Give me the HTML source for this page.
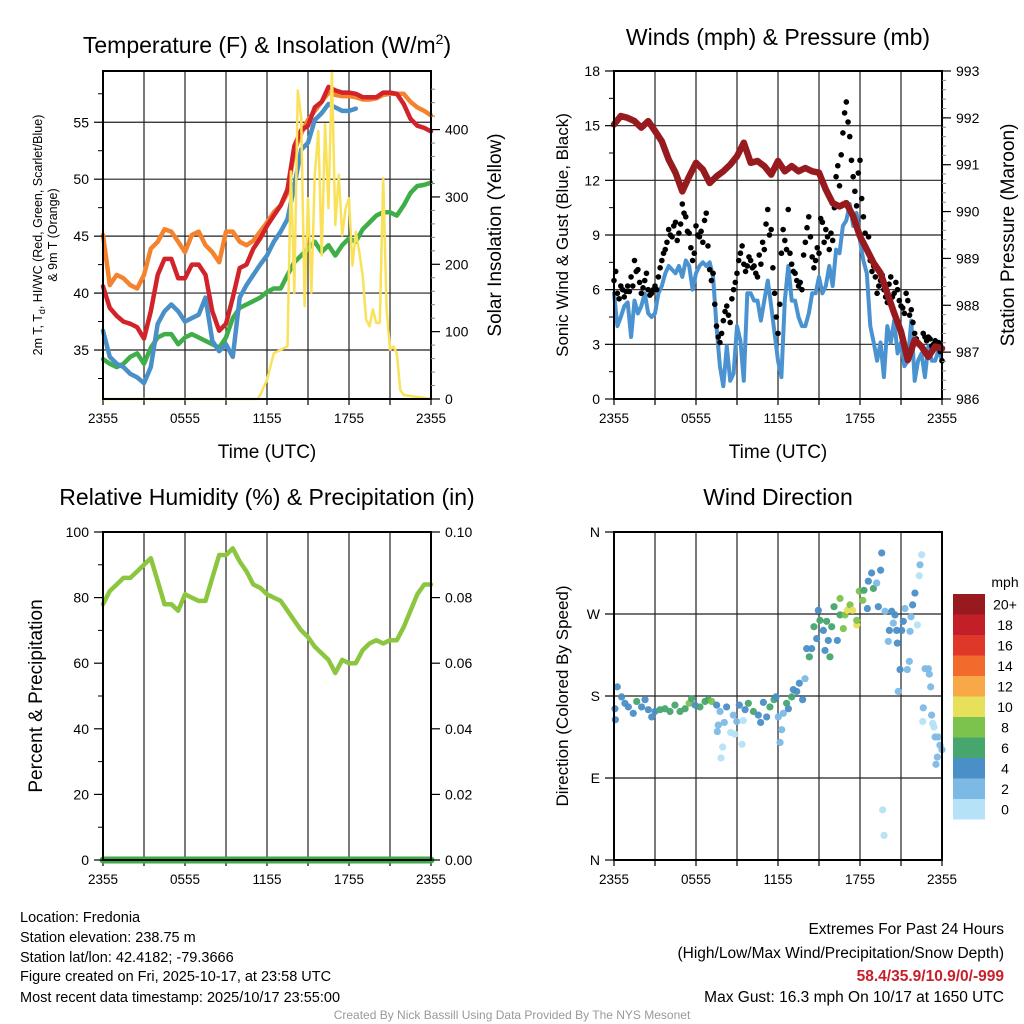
<!DOCTYPE html>
<html><head><meta charset="utf-8">
<style>
html,body{margin:0;padding:0;background:#fff;}
svg{display:block;font-family:"Liberation Sans",Arial,sans-serif;}
</style></head>
<body>
<svg id="chart" width="1024" height="1024" viewBox="0 0 1024 1024" xmlns="http://www.w3.org/2000/svg">
<rect x="0" y="0" width="1024" height="1024" fill="#fff"/>
<g id="layer"></g>
<text x="267" y="53" font-size="23" text-anchor="middle">Temperature (F) &amp; Insolation (W/m<tspan dy="-9" font-size="14">2</tspan><tspan dy="9">)</tspan></text>
<text x="778" y="45" font-size="23" text-anchor="middle">Winds (mph) &amp; Pressure (mb)</text>
<text x="267" y="505" font-size="23" text-anchor="middle">Relative Humidity (%) &amp; Precipitation (in)</text>
<text x="778" y="505" font-size="23" text-anchor="middle">Wind Direction</text>
<text x="267" y="458" font-size="19" text-anchor="middle">Time (UTC)</text>
<text x="778" y="458" font-size="19" text-anchor="middle">Time (UTC)</text>
<text transform="translate(42,235) rotate(-90)" font-size="12.5" text-anchor="middle">2m T, T<tspan font-size="9" dy="3">d</tspan><tspan dy="-3">, HI/WC (Red, Green, Scarlet/Blue)</tspan></text>
<text transform="translate(57,235) rotate(-90)" font-size="12.5" text-anchor="middle">&amp; 9m T (Orange)</text>
<text transform="translate(501,235) rotate(-90)" font-size="19" text-anchor="middle">Solar Insolation (Yellow)</text>
<text transform="translate(568,235) rotate(-90)" font-size="17" text-anchor="middle">Sonic Wind &amp; Gust (Blue, Black)</text>
<text transform="translate(1014,235) rotate(-90)" font-size="19" text-anchor="middle">Station Pressure (Maroon)</text>
<text transform="translate(42,696) rotate(-90)" font-size="19" text-anchor="middle">Percent &amp; Precipitation</text>
<text transform="translate(568,696) rotate(-90)" font-size="17" text-anchor="middle">Direction (Colored By Speed)</text>
<g font-size="14.5">
<text x="20" y="922">Location: Fredonia</text>
<text x="20" y="942">Station elevation: 238.75 m</text>
<text x="20" y="962">Station lat/lon: 42.4182; -79.3666</text>
<text x="20" y="981">Figure created on Fri, 2025-10-17, at 23:58 UTC</text>
<text x="20" y="1002">Most recent data timestamp: 2025/10/17 23:55:00</text>
</g>
<g font-size="15.5" text-anchor="end">
<text x="1004" y="934">Extremes For Past 24 Hours</text>
<text x="1004" y="958">(High/Low/Max Wind/Precipitation/Snow Depth)</text>
<text x="1004" y="981" fill="#c8202a" font-weight="bold">58.4/35.9/10.9/0/-999</text>
<text x="1004" y="1002">Max Gust: 16.3 mph On 10/17 at 1650 UTC</text>
</g>
<text x="512" y="1019" font-size="12" fill="#999" text-anchor="middle">Created By Nick Bassill Using Data Provided By The NYS Mesonet</text>
</svg>
<script>
// ---- data (half-hourly unless noted) ----
const tempRed=[40.6,38.7,38.0,37.5,37.3,37.0,36.0,38.4,41.6,43.0,43.0,41.3,41.3,42.5,42.5,41.6,38.4,36.7,37.3,39.6,42.2,42.5,43.9,44.8,45.9,46.8,47.7,49.1,52.9,54.3,54.7,56.3,56.8,58.1,57.8,57.6,57.6,57.5,57.2,57.2,57.2,57.6,57.6,57.5,56.6,55.3,54.7,54.5,54.2];
const temp9m=[45.1,40.7,41.6,41.3,40.7,40.4,41.6,43.9,44.5,45.6,45.4,44.5,43.6,45.1,45.4,44.2,43.6,42.7,45.4,45.4,44.5,44.2,44.6,45.4,46.2,47.1,47.7,48.8,52.5,54.0,55.2,56.0,56.8,57.6,57.4,57.3,57.3,57.2,57.0,57.0,57.1,57.4,57.5,57.5,57.5,56.8,56.3,56.0,55.6];
const tempHI=[36.7,34.4,33.8,33.5,32.9,32.6,32.1,33.5,37.3,38.4,39.0,38.4,37.5,37.8,38.1,39.6,35.8,34.9,35.5,34.4,39.6,40.7,41.6,42.5,43.3,44.5,45.4,46.5,49.4,52.6,53.2,55.2,55.8,56.6,56.3,56.0,56.0,56.2];
const tempDew=[34.2,33.8,33.5,33.8,34.4,34.7,33.8,35.2,36.1,36.4,36.4,35.5,36.1,36.4,36.1,35.8,35.5,35.2,36.1,37.8,38.7,39.0,39.3,39.6,40.1,40.4,40.4,41.6,42.7,43.3,43.9,44.5,43.6,44.2,43.3,44.2,44.8,44.5,45.6,46.2,46.8,47.1,47.1,46.8,47.7,48.8,49.4,49.5,49.7];
const solarHours=[0,11.3,11.5,12,12.5,13,13.5,13.75,14,14.25,14.5,14.75,15,15.25,15.5,15.75,16,16.25,16.5,16.75,17,17.25,17.5,17.75,18,18.25,18.5,18.75,19,19.25,19.5,19.75,20,20.25,20.5,20.75,21,21.25,21.5,21.75,22,24];
const solarVals=[0,0,6,28,68,73,78,338,158,458,418,138,298,158,333,398,213,408,283,488,258,333,243,283,298,198,248,218,183,118,108,133,113,113,328,133,73,78,68,13,6,0];
const tempTicks=[35,40,45,50,55];
const solarTicks=[0,100,200,300,400];
const timeLabels=["2355","0555","1155","1755","2355"];
// quarter-hourly
const windSpd=[5.8,4.0,4.5,5.1,5.3,3.4,5.4,4.7,5.1,5.8,4.7,4.5,4.7,5.8,6.2,6.9,7.3,7.1,6.9,7.3,6.7,7.6,7.3,6.0,6.9,7.3,7.5,7.3,7.5,6.7,4.0,1.8,0.7,2.9,1.0,1.4,4.0,3.2,1.0,5.8,5.8,5.4,5.4,4.3,5.4,6.5,5.1,3.6,2.1,1.2,5.4,7.3,5.4,5.4,4.5,4.0,4.0,4.7,5.8,5.8,6.7,5.8,6.2,7.3,6.2,8.2,8.0,9.5,9.8,10.7,9.5,10.2,8.7,7.6,6.9,4.0,3.1,2.1,3.1,1.2,4.0,3.1,4.3,2.5,3.1,1.8,2.1,4.3,1.0,2.1,2.5,1.2,2.9,2.1,2.1,2.7,2.1];
const gustA=[6.5,5.8,6.2,5.6,6.2,6.7,7.6,7.1,5.8,6.5,6.0,5.8,6.2,6.7,7.6,8.2,9.3,8.9,9.7,9.1,10.7,10.0,9.1,7.6,9.5,8.9,8.6,10.2,7.1,6.9,4.0,3.1,4.3,5.1,4.2,6.0,6.9,8.0,7.4,7.3,7.6,7.3,6.7,7.4,8.2,10.4,9.3,5.8,3.6,8.0,8.7,10.4,7.4,6.9,6.2,6.0,8.6,10.0,7.8,7.6,8.0,9.7,9.3,8.2,8.7,12.2,11.7,14.6,16.3,14.4,12.2,10.6,13.1,10.0,8.2,7.6,7.3,5.8,6.5,6.0,5.3,6.7,5.8,6.0,5.1,4.7,5.4,4.9,3.6,3.1,2.9,3.4,3.4,2.9,3.2,3.1,2.1];
const gustB=[7.0,5.5,6.0,5.9,5.9,6.2,7.0,6.4,6.1,6.9,5.7,6.0,6.0,7.2,8.0,8.6,9.0,9.5,8.7,9.6,10.2,9.2,8.3,8.0,9.0,9.2,9.8,8.4,6.5,5.2,3.4,3.6,4.8,4.6,5.5,6.4,7.6,8.4,7.0,7.8,7.2,6.9,7.9,8.6,9.6,9.0,7.2,4.5,5.2,9.3,8.2,8.0,7.0,6.5,6.4,7.9,9.4,8.9,7.2,8.3,9.9,8.6,8.9,9.1,10.5,12.8,13.4,15.7,15.2,13.1,11.4,12.4,11.0,9.1,8.9,7.0,6.7,6.2,6.8,5.6,6.3,5.6,6.4,5.4,5.0,5.8,4.6,4.2,3.3,3.0,3.6,3.2,3.3,3.0,2.8,2.6];
const pressure=[991.86,992.04,992.0,991.93,991.79,991.93,991.72,991.5,991.11,990.83,990.43,990.75,991.04,990.9,990.61,990.75,990.86,991.0,991.18,991.47,991.04,991.08,990.97,990.79,991.08,990.86,990.97,990.86,990.93,990.86,990.83,990.47,990.18,990.11,990.18,989.9,989.47,989.19,988.9,988.69,988.26,987.83,987.44,986.83,987.26,987.12,986.9,987.12,987.08];
const windTicks=[0,3,6,9,12,15,18];
const presTicks=[986,987,988,989,990,991,992,993];
const rh=[78,82,84,86,86,88,90,92,85,78,78,76,81,80,79,79,86,93,93,95,91,88,84,83,81,80,79,76,73,70,68,65,63,61,57,61,60,60,64,66,67,66,67,67,71,76,81,84,84];
const precip=[0,0,0,0,0,0,0,0,0,0,0,0,0,0,0,0,0,0,0,0,0,0,0,0,0,0,0,0,0,0,0,0,0,0,0,0,0,0,0,0,0,0,0,0,0,0,0,0,0];
const rhTicks=[0,20,40,60,80,100];
const precipTicks=["0.00","0.02","0.04","0.06","0.08","0.10"];
const dirHours=[0.07,0.24,0.1,0.56,0.8,1.05,1.41,1.66,2.02,2.27,2.51,2.76,3.0,3.37,3.73,4.1,4.46,4.83,5.2,5.5,5.68,5.93,6.29,6.66,6.9,7.15,7.51,7.76,7.63,7.56,7.95,7.83,8.24,8.07,8.54,8.85,8.73,8.98,9.17,9.37,9.46,9.59,9.83,10.2,10.56,10.73,10.93,11.17,11.41,11.71,11.85,12.02,12.15,12.27,12.39,12.63,12.76,13.0,13.12,13.37,13.56,13.8,13.98,14.1,14.29,14.46,14.63,14.83,14.95,15.07,15.32,15.44,15.56,15.68,15.8,15.93,16.1,16.34,16.54,16.54,16.78,16.9,17.07,17.27,17.46,17.76,17.76,17.95,18.2,18.29,18.54,18.61,18.85,18.98,19.22,19.34,19.51,19.59,19.66,19.76,19.83,20.15,20.07,20.32,20.44,20.56,20.68,20.73,20.8,20.93,21.05,21.17,21.29,21.46,21.61,21.66,21.73,21.85,22.02,22.2,22.34,22.39,22.51,22.63,22.59,22.76,23.0,23.07,23.17,23.24,23.32,23.41,23.49,23.73,23.85,23.66,23.56,24.0];
const dirDeg=[166,190,154,179,172,168,161,174,168,176,165,157,163,165,166,163,170,163,166,172,177,170,168,174,176,174,170,163,148,141,124,112,168,151,140,138,159,152,170,127,153,165,172,163,159,151,173,157,168,176,179,157,129,143,161,172,166,179,187,185,194,176,199,232,223,232,256,243,274,263,252,230,262,241,223,256,278,241,287,269,254,269,274,280,274,258,263,295,285,296,276,306,315,298,304,278,318,337,55,27,273,252,240,273,260,269,252,238,185,209,252,262,276,209,218,251,267,280,293,258,312,324,335,167,152,210,210,204,190,159,150,146,135,135,126,113,105,121];
const dirSpd=[4,4,4,4,4,4,4,6,4,4,4,4,4,6,6,6,6,6,6,8,6,4,6,6,6,8,4,2,2,2,0,0,4,2,0,0,2,2,4,0,0,4,6,6,4,4,4,4,6,6,4,2,2,2,2,6,4,6,4,4,4,4,2,4,6,4,6,4,4,6,4,4,6,4,6,6,6,4,8,6,8,8,10,8,10,10,8,8,8,6,4,4,4,6,2,4,4,4,0,0,2,4,2,4,2,4,4,4,2,4,4,4,2,2,2,2,2,4,4,0,0,2,0,2,0,2,2,2,2,2,0,0,2,2,2,2,2,2];
const dirLabels=["N","E","S","W","N"];
const speedBins=["0","2","4","6","8","10","12","14","16","18","20+"];
const speedColors=["#b5e2f6","#7db9e5","#4a8fc7","#47a56e","#7cc34e","#e6e05a","#f8a846","#f26a2c","#e0372b","#c21f28","#991a1e"];

const NS="http://www.w3.org/2000/svg";
const layer=document.getElementById('layer');
function mk(tag,attrs,name,parent){
  const el=document.createElementNS(NS,tag);
  for(const k in attrs) el.setAttribute(k,attrs[k]);
  
  
  (parent||layer).appendChild(el);
  return el;
}
function txt(x,y,s,anchor,size,name,parent){
  const t=mk('text',{x:x,y:y,'font-size':size||13,'text-anchor':anchor||'middle'},name,parent);
  t.textContent=s;
  return t;
}
function pathFrom(xs,ys){
  let d='';
  for(let i=0;i<xs.length;i++) d+=(i?'L':'M')+xs[i].toFixed(1)+' '+ys[i].toFixed(1);
  return d;
}
function series(vals,step,sx,sy,color,w,name){
  const xs=vals.map((v,i)=>sx(i*step));
  const ys=vals.map(v=>sy(v));
  return mk('path',{d:pathFrom(xs,ys),fill:'none',stroke:color,'stroke-width':w,'stroke-linejoin':'round','stroke-linecap':'round'},name);
}
function panel(L,T,W,H){return {L:L,T:T,R:L+W,B:T+H};}
const P1=panel(103,71,328,328),P2=panel(614,71,328,328),P3=panel(103,532,328,328),P4=panel(614,532,328,328);
function xScale(P){return h=>P.L+h*(P.R-P.L)/24;}
function lin(P,lo,hi){return v=>P.B-(v-lo)*(P.B-P.T)/(hi-lo);}
function timeAxis(P,name){
  const x=xScale(P);
  for(let h=3;h<24;h+=3) mk('line',{x1:x(h),x2:x(h),y1:P.T,y2:P.B,stroke:'#222','stroke-width':1.2},name+'-vgrid');
  for(let h=0;h<=24;h+=3) mk('line',{x1:x(h),x2:x(h),y1:P.B,y2:P.B+6,stroke:'#000','stroke-width':1.2},name+'-xtick');
  timeLabels.forEach((s,i)=>txt(x(i*6),P.B+24,s,'middle',13.5,name+'-xlabel'));
}
function hgrid(P,ys,name){ys.forEach(y=>mk('line',{x1:P.L,x2:P.R,y1:y,y2:y,stroke:'#222','stroke-width':1.2},name+'-hgrid'));}
function frame(P,name){mk('rect',{x:P.L,y:P.T,width:P.R-P.L,height:P.B-P.T,fill:'none',stroke:'#000','stroke-width':2},name+'-frame');}
function leftTicks(P,vals,sy,labels,name,minor){
  if(minor) minor.forEach(v=>mk('line',{x1:P.L-5,x2:P.L,y1:sy(v),y2:sy(v),stroke:'#000','stroke-width':1},name+'-minor-tick'));
  vals.forEach((v,i)=>{mk('line',{x1:P.L-9,x2:P.L,y1:sy(v),y2:sy(v),stroke:'#000','stroke-width':1.2},name+'-tick');
    txt(P.L-14,sy(v)+5,labels?labels[i]:String(v),'end',14,name+'-label');});
}
function rightTicks(P,vals,sy,labels,name,minor){
  if(minor) minor.forEach(v=>mk('line',{x1:P.R,x2:P.R+4,y1:sy(v),y2:sy(v),stroke:'#888','stroke-width':1},name+'-minor-tick'));
  vals.forEach((v,i)=>{mk('line',{x1:P.R,x2:P.R+9,y1:sy(v),y2:sy(v),stroke:'#000','stroke-width':1.2},name+'-tick');
    txt(P.R+14,sy(v)+5,labels?labels[i]:String(v),'start',14,name+'-label');});
}

// ---- Panel 1 ----
(function(){
  const x=xScale(P1), yT=lin(P1,30.7,59.5), yS=lin(P1,0,487);
  hgrid(P1,tempTicks.map(yT),'temp');
  timeAxis(P1,'temp');
  series(tempDew,0.5,x,yT,'#3fae49',4.5,'dewpoint-line');
  series(tempHI,0.5,x,yT,'#4a90c8',4.5,'heat-index-line');
  series(temp9m,0.5,x,yT,'#f5832d',4.5,'temp-9m-line');
  series(tempRed,0.5,x,yT,'#d2232a',4.5,'temp-2m-line');
  mk('path',{d:pathFrom(solarHours.map(x),solarVals.map(yS)),fill:'none',stroke:'#f9e25a','stroke-width':2.5,'stroke-linejoin':'round'},'solar-line');
  frame(P1,'temp');
  leftTicks(P1,tempTicks,yT,null,'temp-y',[32.5,37.5,42.5,47.5,52.5,57.5]);
  const sm=[];for(let v=20;v<480;v+=20){if(v%100) sm.push(v);}
  rightTicks(P1,solarTicks,yS,null,'solar-y',sm);
})();
// ---- Panel 2 ----
(function(){
  const x=xScale(P2), yW=lin(P2,0,18), yP=lin(P2,986,993);
  hgrid(P2,windTicks.slice(1,6).map(yW),'wind');
  timeAxis(P2,'wind');
  series(windSpd,0.25,x,yW,'#4a93d0',4,'wind-speed-line');
  const g=mk('g',{},'gust-points');
  gustA.forEach((v,i)=>{mk('circle',{cx:x(i*0.25),cy:yW(v),r:2.8,fill:'#000'},'gust-point',g);});
  gustB.forEach((v,i)=>{mk('circle',{cx:x(i*0.25+0.125),cy:yW(v),r:2.8,fill:'#000'},'gust-point',g);});
  series(pressure,0.5,x,yP,'#971a1e',6.5,'pressure-line');
  frame(P2,'wind');
  leftTicks(P2,windTicks,yW,null,'wind-y',[1.5,4.5,7.5,10.5,13.5,16.5]);
  const pm=[];for(let v=986.2;v<993;v+=0.2){pm.push(v);}
  rightTicks(P2,presTicks,yP,null,'pressure-y',pm);
})();
// ---- Panel 3 ----
(function(){
  const x=xScale(P3), yR=lin(P3,0,100);
  timeAxis(P3,'rh');
  series(rh,0.5,x,yR,'#8cc63f',4.5,'humidity-line');
  series(precip,0.5,x,v=>yR(v*1000),'#3aab47',7,'precip-line');
  frame(P3,'rh');
  leftTicks(P3,rhTicks,yR,null,'rh-y',[10,30,50,70,90]);
  rightTicks(P3,rhTicks,yR,precipTicks,'precip-y',null);
})();
// ---- Panel 4 ----
(function(){
  const x=xScale(P4), yD=lin(P4,0,360);
  hgrid(P4,[90,180,270].map(yD),'dir');
  timeAxis(P4,'dir');
  const g=mk('g',{},'direction-points');
  dirDeg.forEach((d,i)=>{const s=dirSpd[i]===undefined?2:dirSpd[i];mk('circle',{cx:x(dirHours[i]),cy:yD(d),r:3.6,fill:speedColors[Math.min(10,Math.round(s/2))],opacity:0.95},'direction-point',g);});
  frame(P4,'dir');
  leftTicks(P4,[0,90,180,270,360],yD,dirLabels,'dir-y',null);
  const top=594,bh=20.5;
  txt(1005,587,'mph','middle',14,'colorbar-title');
  for(let i=0;i<speedBins.length;i++){
    const idx=speedBins.length-1-i;
    mk('rect',{x:953,y:top+i*bh,width:32,height:bh,fill:speedColors[idx]},'colorbar-swatch');
    txt(1005,top+i*bh+bh/2+5,speedBins[idx],'middle',14,'colorbar-label');
  }
})();
</script>
</body></html>
